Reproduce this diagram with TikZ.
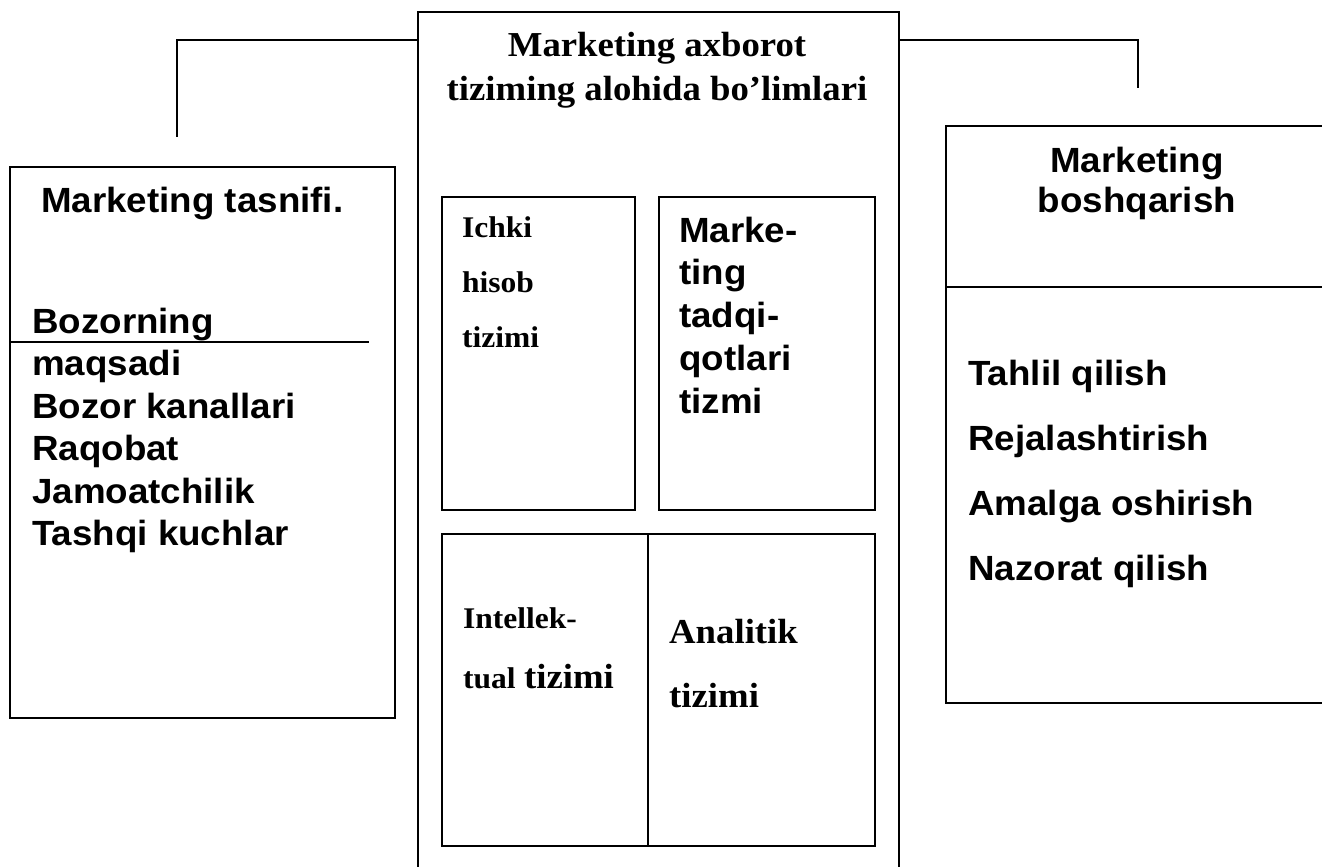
\documentclass[tikz,border=0pt]{standalone}
\usepackage{fontspec}
\usepackage{tikz}
\usetikzlibrary{positioning}
\newfontfamily\sansbold[FakeStretch=1.05]{Liberation Sans}
\newfontfamily\serifbold[FakeStretch=1.05]{Liberation Serif}

\tikzset{
  boxframe/.style={draw, line width=1.6pt, inner sep=0pt, anchor=north west},
  divline/.style={line width=1.6pt},
  sanstxt/.style={inner sep=0pt, anchor=base west, font=\sansbold\bfseries\fontsize{35}{42}\selectfont},
  seriftxt/.style={inner sep=0pt, anchor=base west, font=\serifbold\bfseries\fontsize{35}{42}\selectfont},
  smallserif/.style={inner sep=0pt, anchor=base west, font=\serifbold\bfseries\fontsize{30}{36}\selectfont},
}

\begin{document}
\begin{tikzpicture}[x=1pt, y=-1pt]
    \useasboundingbox (0,0) rectangle (1322,867);
    %\node (name)[option]{content}
    \node[boxframe, minimum width=481pt, minimum height=900pt] (mis) at (417,11) {};
    \node[boxframe, minimum width=385pt, minimum height=551pt] (tas) at (9,166) {};
    \node[boxframe, minimum width=385pt, minimum height=577pt] (mb) at (945,125) {};
    \node[boxframe, minimum width=193pt, minimum height=313pt] (ich) at (441,196) {};
    \node[boxframe, minimum width=216pt, minimum height=313pt] (mt) at (658,196) {};
    \node[boxframe, minimum width=433pt, minimum height=312pt] (ia) at (441,533) {};

    %dividers
    \coordinate (tasdiv) at (369,342);
    \draw[divline] (tas.west |- tasdiv) -- (tasdiv);
    \coordinate (mbdiv) at (1000,287);
    \draw[divline] (mb.west |- mbdiv) -- (mb.east |- mbdiv);
    \coordinate (iadiv) at (648,600);
    \draw[divline] (iadiv |- ia.north) -- (iadiv |- ia.south);

    %connectors
    \coordinate (lknee) at (177,40);
    \coordinate (lend) at (177,137);
    \draw[divline] (mis.west |- lknee) -- (lknee) -- (lend);
    \coordinate (rknee) at (1138,40);
    \coordinate (rend) at (1138,88);
    \draw[divline] (mis.east |- rknee) -- (rknee) -- (rend);

    %titles
    \node[seriftxt, anchor=base] (mis1) at (657,57) {Marketing axborot};
    \node[seriftxt, anchor=base] (mis2) at (657,100) {tiziming alohida bo’limlari};
    \node[sanstxt] (tas0) at (41,212) {Marketing tasnifi.};
    \node[sanstxt, anchor=base] (mb1) at (1137,172) {Marketing};
    \node[sanstxt, anchor=base] (mb2) at (1137,212) {boshqarish};

    %lists
    \foreach \t [count=\i from 0] in {Bozorning, maqsadi, Bozor kanallari, Raqobat, Jamoatchilik, Tashqi kuchlar}
        \node[sanstxt] (tasx\i) at (32, {333+42.5*\i}) {\t};
    \foreach \t [count=\i from 0] in {Tahlil qilish, Rejalashtirish, Amalga oshirish, Nazorat qilish}
        \node[sanstxt] (mbx\i) at (968, {385+65*\i}) {\t};
    \foreach \t [count=\i from 0] in {Ichki, hisob, tizimi}
        \node[smallserif] (ich\i) at (462, {237+55*\i}) {\t};
    \foreach \t [count=\i from 0] in {Marke-, ting, tadqi-, qotlari, tizmi}
        \node[sanstxt] (mt\i) at (679, {242+42.75*\i}) {\t};

    %bottom box
    \node[smallserif] (ia1) at (463,628) {Intellek-};
    \node[smallserif] (ia2) at (463,688) {tual};
    \node[seriftxt] (ia3) at ([xshift=8pt]ia2.base east) {tizimi};
    \node[seriftxt] (an1) at (669,643) {Analitik};
    \node[seriftxt] (an2) at (669,707) {tizimi};
\end{tikzpicture}
\end{document}
